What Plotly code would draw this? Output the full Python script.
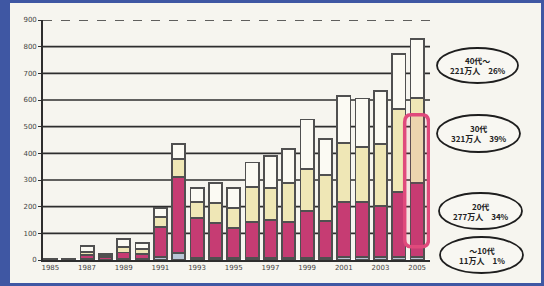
import plotly.graph_objects as go

years = list(range(1985, 2006))
teens = [1, 2, 3, 2, 3, 3, 12, 25, 8, 8, 8, 8, 8, 8, 8, 8, 10, 10, 10, 10, 11]
twenties = [1, 2, 15, 8, 25, 20, 113, 285, 149, 132, 112, 135, 142, 135, 177, 139, 208, 208, 192, 246, 277]
thirties = [0, 1, 12, 5, 20, 18, 37, 68, 61, 73, 75, 131, 119, 147, 156, 171, 221, 207, 233, 309, 321]
forties = [1, 1, 22, 7, 30, 22, 33, 56, 53, 75, 75, 92, 121, 126, 186, 135, 175, 181, 199, 209, 221]

xticks = [1985, 1987, 1989, 1991, 1993, 1995, 1997, 1999, 2001, 2003, 2005]
yticks = [0, 100, 200, 300, 400, 500, 600, 700, 800, 900]

legend_labels = [
    ("40代〜", "221万人　26%"),
    ("30代", "321万人　39%"),
    ("20代", "277万人　34%"),
    ("〜10代", "11万人　1%"),
]

W, H = 544, 286
L, R, T, B = 43, 430, 20, 260


def px(x):
    return (x - L) / (R - L)


def py(y):
    return (B - y) / (B - T)


fig = go.Figure()
series = [
    ("〜10代", teens, "#b9c6d6"),
    ("20代", twenties, "#c63c73"),
    ("30代", thirties, "#efe7b6"),
    ("40代〜", forties, "#fbfaf3"),
]
for name, vals, col in series:
    fig.add_trace(go.Bar(
        x=years, y=vals, name=name, width=0.72,
        marker=dict(color=col, line=dict(color="#505050", width=1.8)),
        showlegend=False, hoverinfo="skip",
    ))

shapes = []
# paper sheet
shapes.append(dict(type="rect", xref="paper", yref="paper", layer="below",
                   x0=px(10), x1=px(541), y0=py(283), y1=py(3),
                   fillcolor="#f6f5ef", line=dict(width=0)))
# gridlines
for v in yticks[1:]:
    shapes.append(dict(type="line", xref="paper", yref="y", layer="below",
                       x0=0, x1=1, y0=v, y1=v,
                       line=dict(color="#2e2e2e", width=1.6,
                                 dash="dash" if v == 900 else "solid")))
# highlight around 2005 bar
x0, x1, y0, y1 = 2004.32, 2005.62, 50, 545
rx, ry = 0.35, 28
path = (f"M {x0+rx},{y0} L {x1-rx},{y0} Q {x1},{y0} {x1},{y0+ry} "
        f"L {x1},{y1-ry} Q {x1},{y1} {x1-rx},{y1} L {x0+rx},{y1} "
        f"Q {x0},{y1} {x0},{y1-ry} L {x0},{y0+ry} Q {x0},{y0} {x0+rx},{y0} Z")
shapes.append(dict(type="path", xref="x", yref="y", path=path, layer="above",
                   fillcolor="rgba(225,60,110,0.10)",
                   line=dict(color="#e04a7c", width=3.5)))

ell = [(437, 518, 48, 83), (437, 520, 115, 152), (439, 522, 193, 229), (440, 523, 237, 273)]
annotations = []
for (ex0, ex1, ey0, ey1), (a, b) in zip(ell, legend_labels):
    shapes.append(dict(type="circle", xref="paper", yref="paper",
                       x0=px(ex0), x1=px(ex1), y0=py(ey1), y1=py(ey0),
                       fillcolor="#f8f7f2", line=dict(color="#1e1e1e", width=1.8)))
    annotations.append(dict(xref="paper", yref="paper", x=px((ex0 + ex1) / 2),
                            y=py((ey0 + ey1) / 2), xanchor="center", yanchor="middle",
                            showarrow=False, align="center",
                            text=f"<b>{a}<br>{b}</b>",
                            font=dict(family="Noto Sans CJK JP", size=8, color="#222222")))

fig.update_layout(
    width=W, height=H,
    margin=dict(l=L, r=W - R, t=T, b=H - B, autoexpand=False),
    barmode="stack", bargap=0.28,
    paper_bgcolor="#3f57a3", plot_bgcolor="rgba(0,0,0,0)",
    shapes=shapes, annotations=annotations,
    xaxis=dict(range=[1984.6, 2005.7], tickvals=xticks, showgrid=False,
               showline=True, linecolor="#2e2e2e", linewidth=1.6,
               ticks="", tickfont=dict(family="DejaVu Sans", size=7, color="#444444")),
    yaxis=dict(range=[0, 900], tickvals=yticks, showgrid=False,
               showline=True, linecolor="#2e2e2e", linewidth=1.6,
               ticks="outside", ticklen=3, tickcolor="#2e2e2e",
               tickfont=dict(family="DejaVu Sans", size=7, color="#444444")),
)

fig.write_html("out.html", config={"displayModeBar": False},
               post_script="document.body.style.margin='0';")
